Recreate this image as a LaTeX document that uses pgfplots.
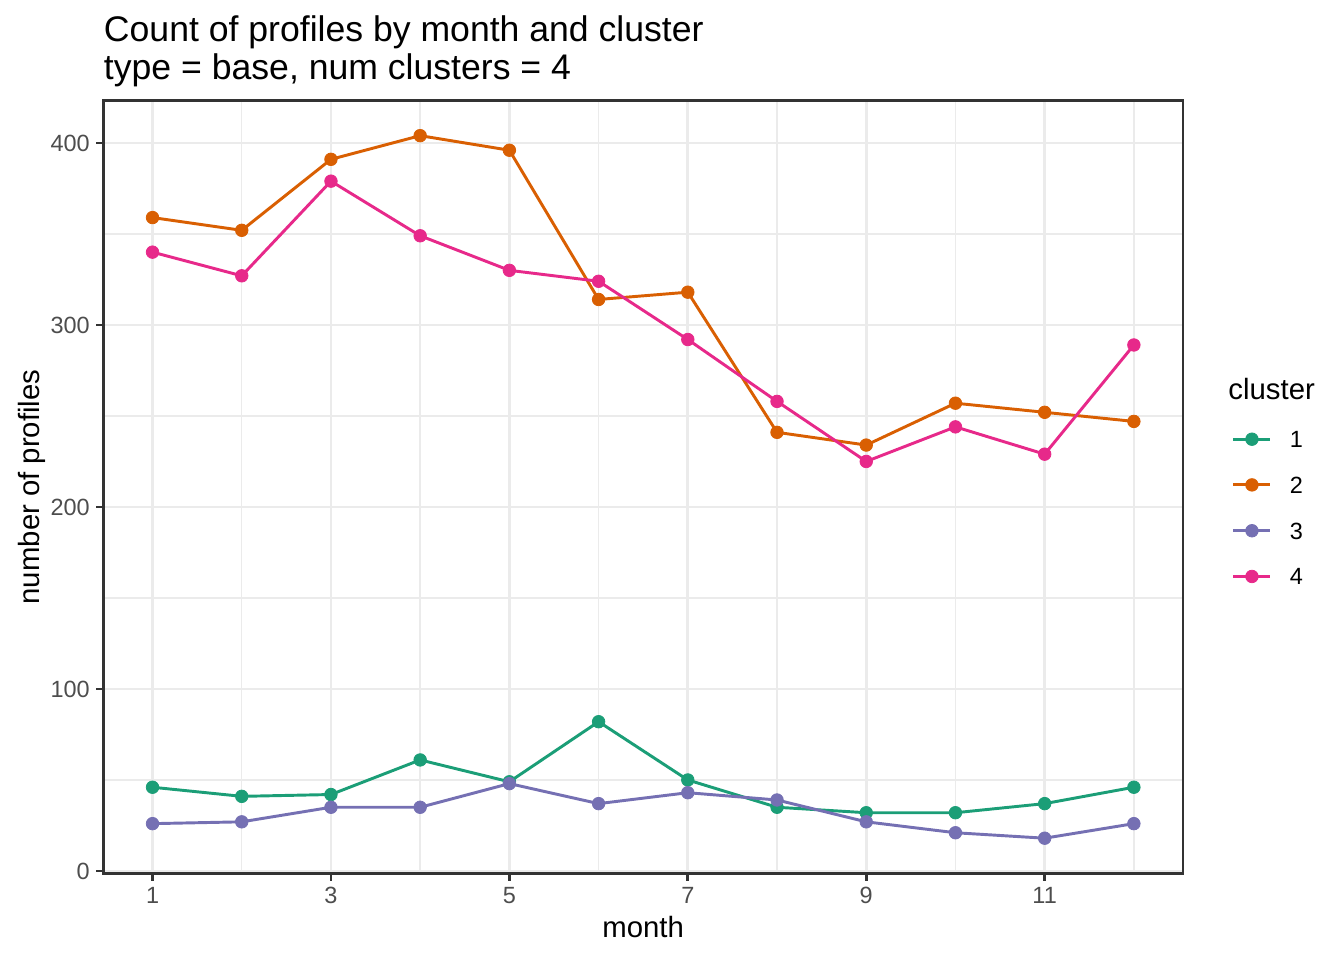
\documentclass[border=0pt]{standalone}
\usepackage{pgfplots}
\pgfplotsset{compat=1.18}
\usepackage{fontspec}
\setmainfont{Liberation Sans}

\definecolor{cA}{HTML}{1B9E77}
\definecolor{cB}{HTML}{D95F02}
\definecolor{cC}{HTML}{7570B3}
\definecolor{cD}{HTML}{E7298A}
\definecolor{grey92}{HTML}{EBEBEB}
\definecolor{grey30}{HTML}{4D4D4D}
\definecolor{grey20}{HTML}{333333}

\begin{document}
\begin{tikzpicture}
\begin{axis}[
  name=ax,
  scale only axis,
  width=404.8bp, height=289.8bp,
  xmin=0.45, xmax=12.55, ymin=-1.3, ymax=423.3,
  xtick={1,3,5,7,9,11}, ytick={0,100,200,300,400},
  minor xtick={2,4,6,8,10,12}, minor ytick={50,150,250,350},
  grid=both,
  major grid style={draw=grey92, line width=1.07bp},
  minor grid style={draw=grey92, line width=0.53bp},
  axis line style={draw=grey20, line width=1.07bp},
  tick align=outside, tick pos=left,
  major tick length=2.75bp, minor tick length=0pt,
  major tick style={draw=grey20, line width=1.07bp},
  /pgf/number format/assume math mode=true,
  ticklabel style={font=\fontsize{8.8bp}{10bp}\selectfont, text=grey30},
  xticklabel style={yshift=1.1bp},
  yticklabel style={xshift=1.1bp},
  xlabel={month}, ylabel={number of profiles},
  label style={font=\fontsize{11bp}{13bp}\selectfont},
  xlabel style={at={(axis description cs:0.5,-0.0835)}, anchor=base},
  ylabel style={at={(axis description cs:-0.0597,0.5)}, anchor=base},
  every axis plot/.append style={line width=1.1bp, mark=*, mark size=2.35bp, mark options={solid, line width=0.3bp}},
  legend style={at={(1.0454,0.5717)}, anchor=north west, draw=none, fill=none,
    inner sep=0pt, outer sep=0pt, row sep=9.55bp, column sep=6.7bp,
    font=\fontsize{8.8bp}{10bp}\selectfont,
    nodes={inner sep=0pt}},
  legend cell align=left,
  legend image code/.code={\draw[mark repeat=2,mark phase=2,#1] plot coordinates {(0bp,0.9bp) (6.95bp,0.9bp) (13.9bp,0.9bp)};},
  clip=false,
]
\addplot[color=cA] coordinates {(1,46) (2,41) (3,42) (4,61) (5,49) (6,82) (7,50) (8,35) (9,32) (10,32) (11,37) (12,46)};
\addplot[color=cB] coordinates {(1,359) (2,352) (3,391) (4,404) (5,396) (6,314) (7,318) (8,241) (9,234) (10,257) (11,252) (12,247)};
\addplot[color=cC] coordinates {(1,26) (2,27) (3,35) (4,35) (5,48) (6,37) (7,43) (8,39) (9,27) (10,21) (11,18) (12,26)};
\addplot[color=cD] coordinates {(1,340) (2,327) (3,379) (4,349) (5,330) (6,324) (7,292) (8,258) (9,225) (10,244) (11,229) (12,289)};
\legend{1,2,3,4}
\coordinate (tl) at (rel axis cs:0,1);
\coordinate (sw) at (rel axis cs:0,0);
\coordinate (lt) at (rel axis cs:1.0417,0.6126);
\end{axis}
\node[anchor=south west, inner sep=0pt, align=left, font=\fontsize{13.35bp}{14.25bp}\selectfont] at ([yshift=5.0bp]tl) {Count of profiles by month and cluster\\type = base, num clusters = 4};
\node[anchor=base west, inner sep=0pt, font=\fontsize{11bp}{13bp}\selectfont] at (lt) {cluster};
\pgfresetboundingbox
\path (sw) ++(-38.8bp,-32.5bp) rectangle ++(504bp,360bp);
\end{tikzpicture}
\end{document}
